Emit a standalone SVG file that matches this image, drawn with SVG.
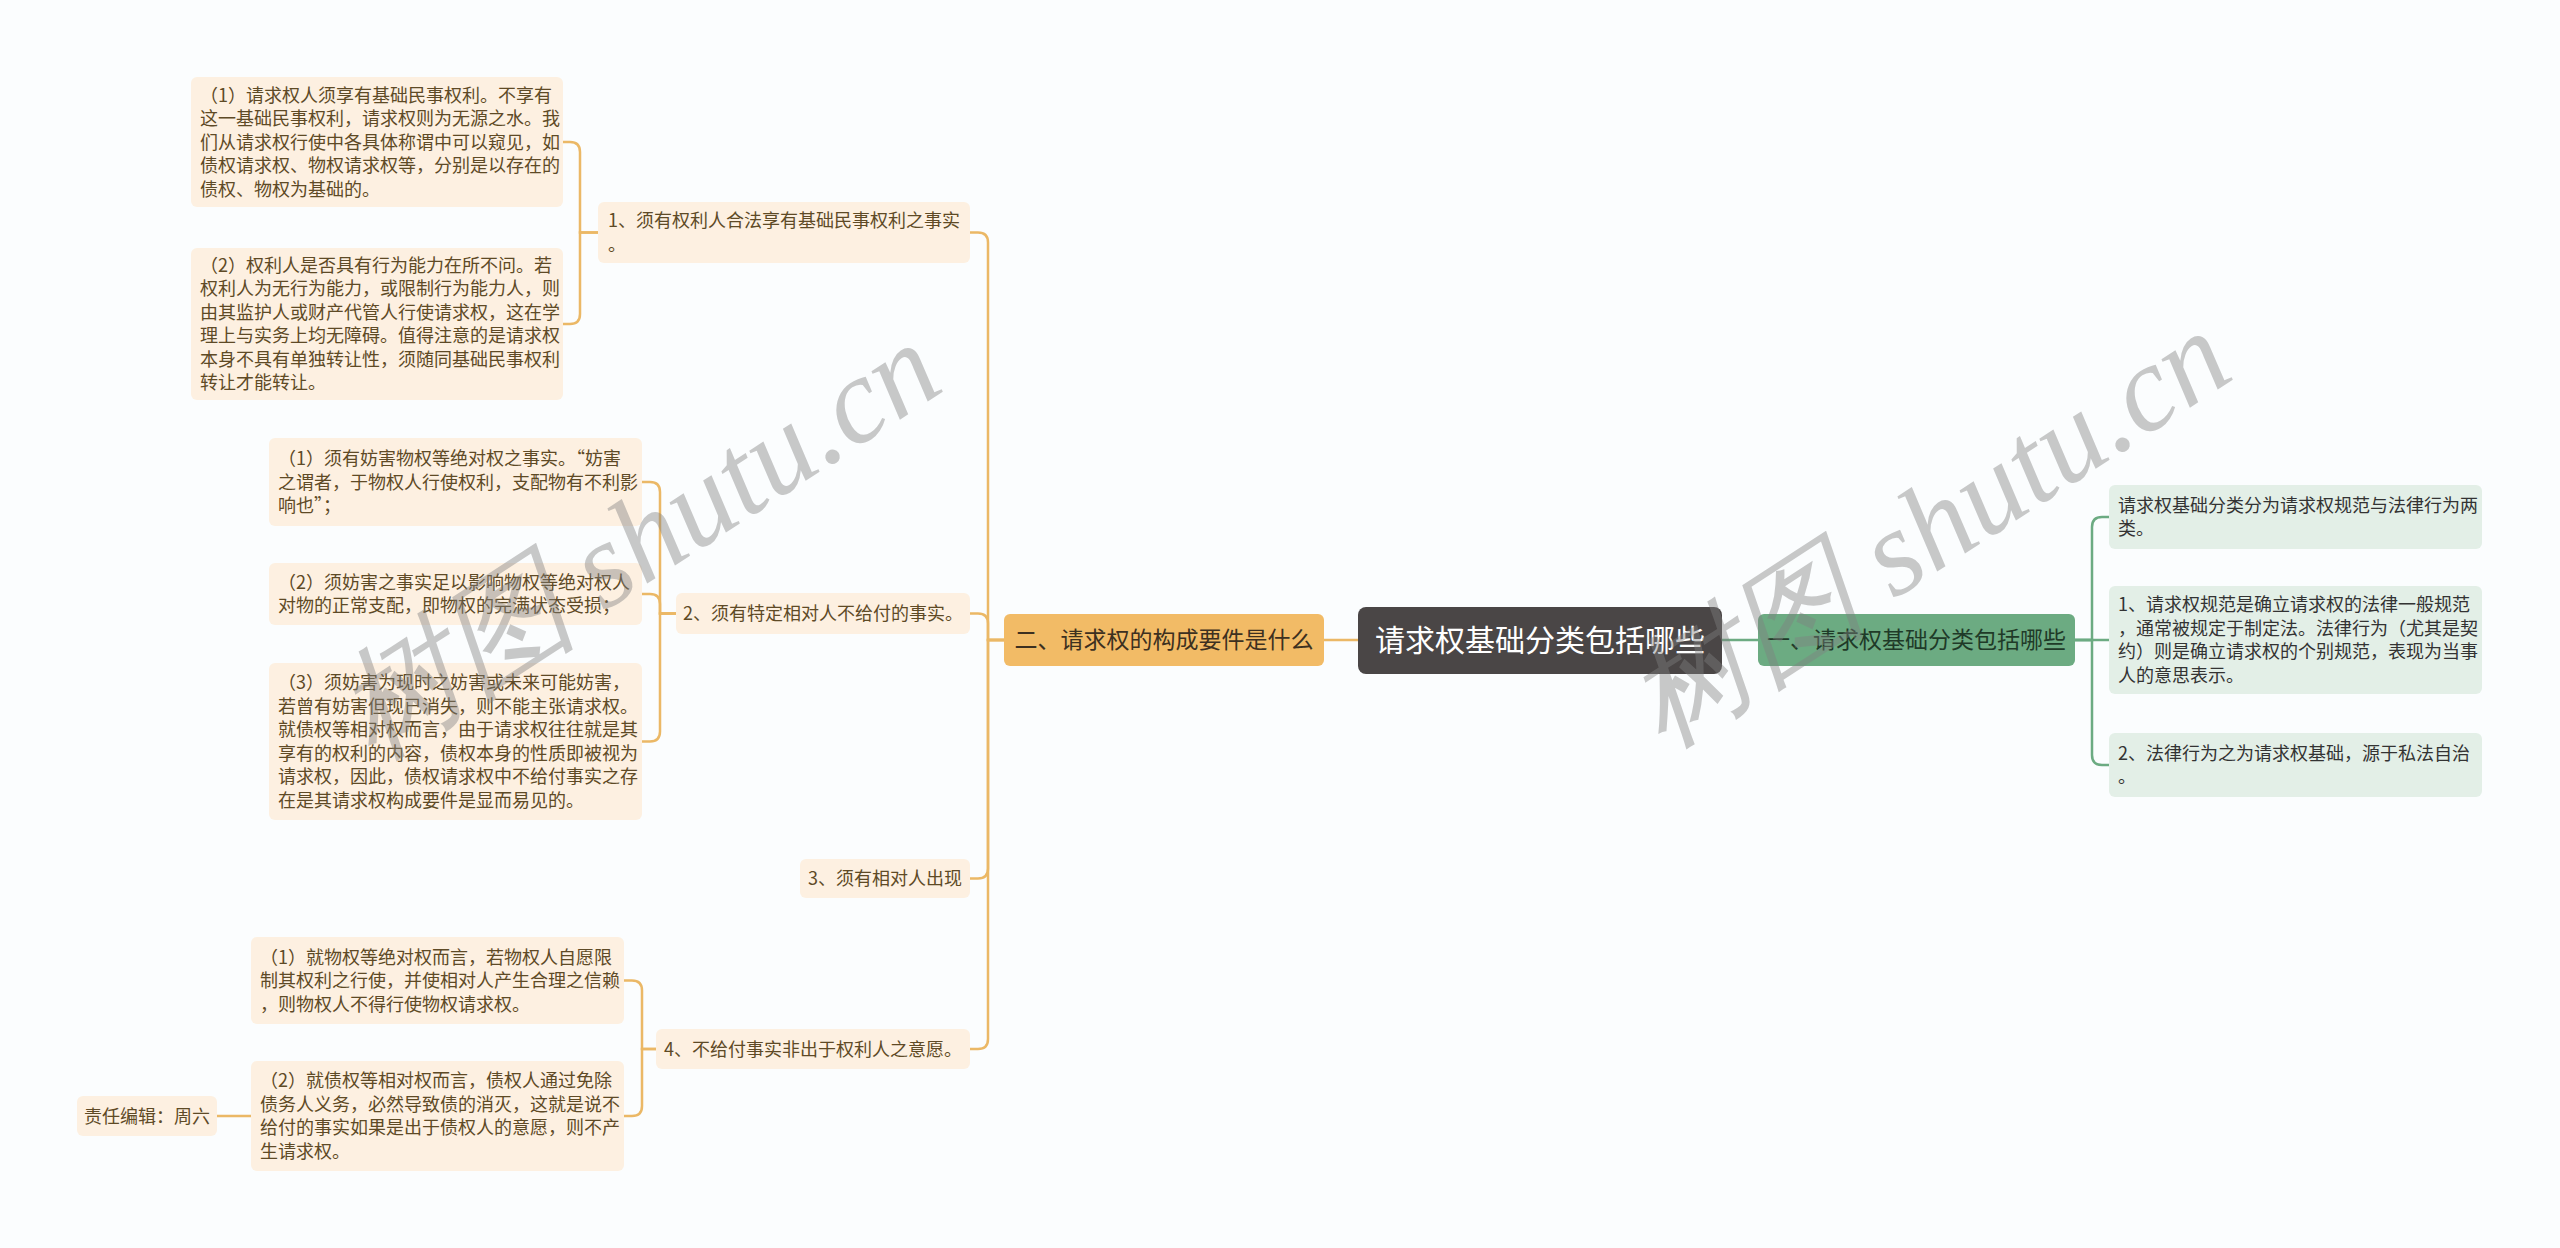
<svg xmlns="http://www.w3.org/2000/svg" width="2560" height="1248" viewBox="0 0 2560 1248">
<style>
text{font-family:"Noto Sans CJK SC","Noto Sans",sans-serif}
.ol{fill:#fdf0e1}
.gl{fill:#e3efe7}
.ot{font-size:18px;fill:#5e4a26}
.gt{font-size:18px;fill:#333333}
.oc{fill:none;stroke:#ebb866;stroke-width:2.5}
.gc{fill:none;stroke:#6cab82;stroke-width:2.5}
.wm{font-family:"Liberation Serif",serif;font-style:italic;font-size:122px;fill:#808080;opacity:0.42}
</style>
<rect width="2560" height="1248" fill="#fbfdfe"/>
<g id="connectors">
<path class="oc" d="M1324,640 H1358"/>
<path class="gc" d="M1722,640 H1758"/>
<path class="oc" d="M1004,640 H988 V242.5 Q988,232.5 978,232.5 H970"/>
<path class="oc" d="M1004,640 H988 V623.5 Q988,613.5 978,613.5 H970"/>
<path class="oc" d="M1004,640 H988 V868.5 Q988,878.5 978,878.5 H970"/>
<path class="oc" d="M1004,640 H988 V1039 Q988,1049 978,1049 H970"/>
<path class="oc" d="M598,232.5 H580 V152 Q580,142 570,142 H563"/>
<path class="oc" d="M598,232.5 H580 V314 Q580,324 570,324 H563"/>
<path class="oc" d="M676,613.5 H660 V492 Q660,482 650,482 H642"/>
<path class="oc" d="M676,613.5 H660 V604 Q660,594 650,594 H642"/>
<path class="oc" d="M676,613.5 H660 V731.5 Q660,741.5 650,741.5 H642"/>
<path class="oc" d="M658,1049 H642 V990.5 Q642,980.5 632,980.5 H624"/>
<path class="oc" d="M658,1049 H642 V1106 Q642,1116 632,1116 H624"/>
<path class="oc" d="M251,1116 H217"/>
<path class="gc" d="M2075,640 H2092 V527 Q2092,517 2102,517 H2109"/>
<path class="gc" d="M2075,640 H2109"/>
<path class="gc" d="M2075,640 H2092 V755 Q2092,765 2102,765 H2109"/>
</g>
<g id="root">
<rect x="1358" y="607" width="364" height="67" rx="8" fill="#4a4646"/>
<text x="1540" y="651" text-anchor="middle" font-size="30" fill="#ffffff">请求权基础分类包括哪些</text>
</g>
<g id="main-left">
<rect x="1004" y="614" width="320" height="52" rx="6" fill="#f2bb66"/>
<text x="1164" y="648" text-anchor="middle" font-size="23" fill="#3d3020">二、请求权的构成要件是什么</text>
</g>
<g id="main-right">
<rect x="1758" y="614" width="317" height="52" rx="6" fill="#6cab82"/>
<text x="1916.5" y="648" text-anchor="middle" font-size="23" fill="#1f3a28">一、请求权基础分类包括哪些</text>
</g>
<g id="r1">
<rect class="gl" x="2109" y="485" width="373" height="64" rx="6"/>
<text class="gt" x="2118" y="511.75"><tspan x="2118">请求权基础分类分为请求权规范与法律行为两</tspan><tspan x="2118" dy="23.5">类。</tspan></text>
</g>
<g id="r2">
<rect class="gl" x="2109" y="586" width="373" height="108" rx="6"/>
<text class="gt" x="2118" y="611.25"><tspan x="2118">1、请求权规范是确立请求权的法律一般规范</tspan><tspan x="2118" dy="23.5">，通常被规定于制定法。法律行为（尤其是契</tspan><tspan x="2118" dy="23.5">约）则是确立请求权的个别规范，表现为当事</tspan><tspan x="2118" dy="23.5">人的意思表示。</tspan></text>
</g>
<g id="r3">
<rect class="gl" x="2109" y="733" width="373" height="64" rx="6"/>
<text class="gt" x="2118" y="759.75"><tspan x="2118">2、法律行为之为请求权基础，源于私法自治</tspan><tspan x="2118" dy="23.5">。</tspan></text>
</g>
<g id="n1">
<rect class="ol" x="598" y="202" width="372" height="61" rx="6"/>
<text class="ot" x="608" y="227.25"><tspan x="608">1、须有权利人合法享有基础民事权利之事实</tspan><tspan x="608" dy="23.5">。</tspan></text>
</g>
<g id="n2">
<rect class="ol" x="676" y="593" width="294" height="41" rx="6"/>
<text class="ot" x="823" y="620" text-anchor="middle">2、须有特定相对人不给付的事实。</text>
</g>
<g id="n3">
<rect class="ol" x="800" y="859" width="170" height="39" rx="6"/>
<text class="ot" x="885" y="885" text-anchor="middle">3、须有相对人出现</text>
</g>
<g id="n4">
<rect class="ol" x="656" y="1029" width="314" height="40" rx="6"/>
<text class="ot" x="813" y="1055.5" text-anchor="middle">4、不给付事实非出于权利人之意愿。</text>
</g>
<g id="n1a">
<rect class="ol" x="191" y="77" width="372" height="130" rx="6"/>
<text class="ot" x="200" y="101.5"><tspan x="200">（1）请求权人须享有基础民事权利。不享有</tspan><tspan x="200" dy="23.5">这一基础民事权利，请求权则为无源之水。我</tspan><tspan x="200" dy="23.5">们从请求权行使中各具体称谓中可以窥见，如</tspan><tspan x="200" dy="23.5">债权请求权、物权请求权等，分别是以存在的</tspan><tspan x="200" dy="23.5">债权、物权为基础的。</tspan></text>
</g>
<g id="n1b">
<rect class="ol" x="191" y="248" width="372" height="152" rx="6"/>
<text class="ot" x="200" y="271.75"><tspan x="200">（2）权利人是否具有行为能力在所不问。若</tspan><tspan x="200" dy="23.5">权利人为无行为能力，或限制行为能力人，则</tspan><tspan x="200" dy="23.5">由其监护人或财产代管人行使请求权，这在学</tspan><tspan x="200" dy="23.5">理上与实务上均无障碍。值得注意的是请求权</tspan><tspan x="200" dy="23.5">本身不具有单独转让性，须随同基础民事权利</tspan><tspan x="200" dy="23.5">转让才能转让。</tspan></text>
</g>
<g id="n2a">
<rect class="ol" x="269" y="438" width="373" height="88" rx="6"/>
<text class="ot" x="278" y="465"><tspan x="278">（1）须有妨害物权等绝对权之事实。“妨害</tspan><tspan x="278" dy="23.5">之谓者，于物权人行使权利，支配物有不利影</tspan><tspan x="278" dy="23.5">响也”；</tspan></text>
</g>
<g id="n2b">
<rect class="ol" x="269" y="563" width="373" height="62" rx="6"/>
<text class="ot" x="278" y="588.75"><tspan x="278">（2）须妨害之事实足以影响物权等绝对权人</tspan><tspan x="278" dy="23.5">对物的正常支配，即物权的完满状态受损；</tspan></text>
</g>
<g id="n2c">
<rect class="ol" x="269" y="663" width="373" height="157" rx="6"/>
<text class="ot" x="278" y="689.25"><tspan x="278">（3）须妨害为现时之妨害或未来可能妨害，</tspan><tspan x="278" dy="23.5">若曾有妨害但现已消失，则不能主张请求权。</tspan><tspan x="278" dy="23.5">就债权等相对权而言，由于请求权往往就是其</tspan><tspan x="278" dy="23.5">享有的权利的内容，债权本身的性质即被视为</tspan><tspan x="278" dy="23.5">请求权，因此，债权请求权中不给付事实之存</tspan><tspan x="278" dy="23.5">在是其请求权构成要件是显而易见的。</tspan></text>
</g>
<g id="n4a">
<rect class="ol" x="251" y="937" width="373" height="87" rx="6"/>
<text class="ot" x="260" y="963.5"><tspan x="260">（1）就物权等绝对权而言，若物权人自愿限</tspan><tspan x="260" dy="23.5">制其权利之行使，并使相对人产生合理之信赖</tspan><tspan x="260" dy="23.5">，则物权人不得行使物权请求权。</tspan></text>
</g>
<g id="n4b">
<rect class="ol" x="251" y="1061" width="373" height="110" rx="6"/>
<text class="ot" x="260" y="1087.25"><tspan x="260">（2）就债权等相对权而言，债权人通过免除</tspan><tspan x="260" dy="23.5">债务人义务，必然导致债的消灭，这就是说不</tspan><tspan x="260" dy="23.5">给付的事实如果是出于债权人的意愿，则不产</tspan><tspan x="260" dy="23.5">生请求权。</tspan></text>
</g>
<g id="editor">
<rect class="ol" x="77" y="1096" width="140" height="40" rx="6"/>
<text class="ot" x="147" y="1122.5" text-anchor="middle">责任编辑：周六</text>
</g>
<g id="watermarks">
<text class="wm" x="637" y="582" text-anchor="middle" transform="rotate(-33 637 539)">树图 shutu.cn</text>
<text class="wm" x="1927" y="570" text-anchor="middle" transform="rotate(-33 1927 527)">树图 shutu.cn</text>
</g>
</svg>
